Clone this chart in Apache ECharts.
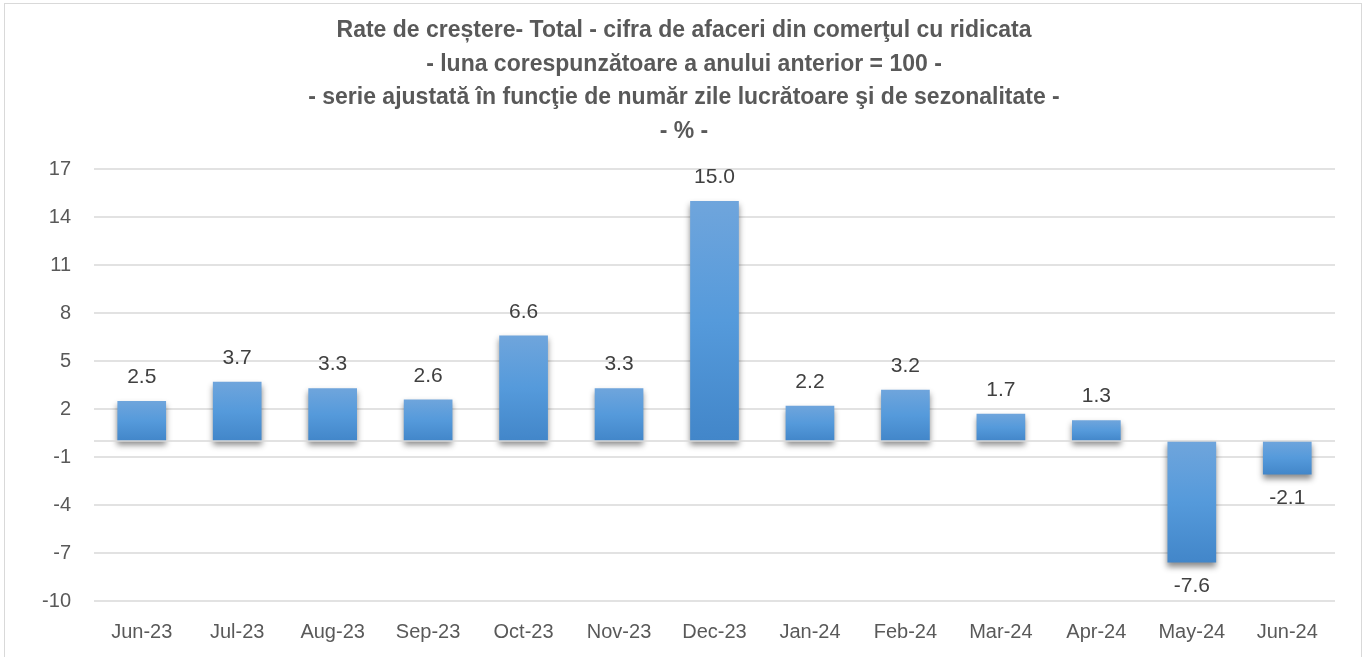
<!DOCTYPE html>
<html><head><meta charset="utf-8">
<script src="https://cdn.jsdelivr.net/npm/echarts@6/dist/echarts.min.js"></script>
<style>html,body{margin:0;padding:0;background:#fff}#c{width:1368px;height:657px}
#frame{position:absolute;left:4px;top:3px;width:1358px;height:660px;border:1px solid #d9d9d9;box-sizing:border-box;pointer-events:none}</style>
</head><body><div id="c"></div><div id="frame"></div>
<script>
const categories = ["Jun-23","Jul-23","Aug-23","Sep-23","Oct-23","Nov-23","Dec-23","Jan-24","Feb-24","Mar-24","Apr-24","May-24","Jun-24"];
const values = [2.5, 3.7, 3.3, 2.6, 6.6, 3.3, 15.0, 2.2, 3.2, 1.7, 1.3, -7.6, -2.1];
const titleLines = [
  "Rate de creștere- Total - cifra de afaceri din comerţul cu ridicata",
  "- luna corespunzătoare a anului anterior = 100 -",
  "- serie ajustată în funcţie de număr zile lucrătoare şi de sezonalitate -",
  "- % -"
];
const yMin = -10, yMax = 17, yInterval = 3;
const font = "Liberation Sans";
const chart = echarts.init(document.getElementById('c'));
chart.setOption({
  animation: false,
  title: {
    text: titleLines.join("\n"),
    left: 'center', top: 9,
    textStyle: {fontFamily: font, fontSize: 23, fontWeight: 'bold', color: '#595959', lineHeight: 33.5}
  },
  grid: {left: 94, right: 33, top: 169, bottom: 56},
  xAxis: {
    type: 'category', data: categories,
    axisLine: {show: false}, axisTick: {show: false},
    axisLabel: {fontFamily: font, fontSize: 20, color: '#595959', margin: 21}
  },
  yAxis: {
    type: 'value', min: yMin, max: yMax, interval: yInterval,
    axisLine: {show: false}, axisTick: {show: false},
    splitLine: {lineStyle: {color: '#d9d9d9', width: 1.5}},
    axisLabel: {fontFamily: font, fontSize: 20, color: '#595959', margin: 23}
  },
  series: [{
    type: 'bar', data: values, barWidth: '51%',
    itemStyle: {
      color: new echarts.graphic.LinearGradient(0,0,0,1,[{offset:0,color:'#6fa5dc'},{offset:0.5,color:'#559adb'},{offset:1,color:'#4286c9'}]),
      shadowColor: 'rgba(0,0,0,0.45)', shadowBlur: 6, shadowOffsetY: 4
    },
    label: {
      show: true, position: 'outside',
      formatter: p => p.value.toFixed(1),
      fontFamily: font, fontSize: 21, color: '#404040', distance: 13
    },
    markLine: {silent: true, symbol: 'none', label: {show: false},
      lineStyle: {color: '#d9d9d9', type: 'solid', width: 1.5}, data: [{yAxis: 0}]}
  }]
});
</script></body></html>
